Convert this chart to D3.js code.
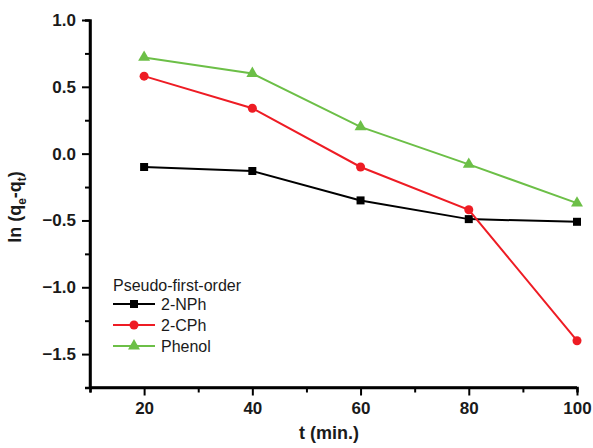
<!DOCTYPE html>
<html>
<head>
<meta charset="utf-8">
<script src="https://cdn.jsdelivr.net/npm/d3@7"></script>
<style>
  html, body { margin: 0; padding: 0; background: #fff; }
  svg { display: block; font-family: Arial, "Liberation Sans", sans-serif; }
</style>
</head>
<body>
<svg id="chart" width="593" height="448"></svg>
<script>
// Contact time (min) and ln(qe - qt) for each adsorbate
const times = [20, 40, 60, 80, 100];
const nph = [-0.10, -0.13, -0.35, -0.49, -0.51];
const cph = [0.58, 0.34, -0.10, -0.42, -1.40];
const phenol = [0.72, 0.60, 0.20, -0.08, -0.37];

const seriesNames = ["2-NPh", "2-CPh", "Phenol"];
const seriesColors = ["#000000", "#ee1c24", "#6cbf47"];
const seriesShapes = ["square", "circle", "triangle"];
const legendTitle = "Pseudo-first-order";

const xMajorTicks = [20, 40, 60, 80, 100];
const xMinorTicks = [10, 30, 50, 70, 90];
const yMajorTicks = [1.0, 0.5, 0.0, -0.5, -1.0, -1.5];
const yMinorTicks = [0.75, 0.25, -0.25, -0.75, -1.25, -1.75];

const svg = d3.select("#chart");
const x = d3.scaleLinear().domain([10, 100]).range([90, 577]);
const y = d3.scaleLinear().domain([-1.75, 1.0]).range([387.5, 20]);

const seriesData = [nph, cph, phenol];

// Axes
const xAxis = svg.append("g").attr("transform", `translate(0,${y(-1.75)})`);
xAxis.call(d3.axisBottom(x).tickValues(xMajorTicks).tickSize(8).tickPadding(6).tickFormat(d3.format("d")));
xAxis.append("g").call(d3.axisBottom(x).tickValues(xMinorTicks).tickSize(5).tickFormat(""));

const yAxis = svg.append("g").attr("transform", `translate(${x(10)},0)`);
yAxis.call(d3.axisLeft(y).tickValues(yMajorTicks).tickSize(8).tickPadding(6).tickFormat(d3.format(".1f")));
yAxis.append("g").call(d3.axisLeft(y).tickValues(yMinorTicks).tickSize(5).tickFormat(""));

svg.selectAll(".domain").attr("stroke", "#000").attr("stroke-width", 2.5);
svg.selectAll(".tick line").attr("stroke", "#000").attr("stroke-width", 2);
svg.selectAll(".tick text")
  .attr("fill", "#1a1a1a")
  .style("font-size", "17px")
  .style("font-weight", "bold");
// Domain paths without end caps so the two axes meet cleanly
xAxis.select(".domain").attr("d", `M${x(10)},0H${x(100)}`);
yAxis.select(".domain").attr("d", `M0,${y(-1.75)}V${y(1.0)}`);

// Axis titles
svg.append("text")
  .attr("x", 329).attr("y", 439)
  .attr("text-anchor", "middle")
  .style("font-size", "18px").style("font-weight", "bold").attr("fill", "#1a1a1a")
  .text("t (min.)");

const yl = svg.append("text")
  .attr("transform", "translate(21,207) rotate(-90)")
  .attr("text-anchor", "middle")
  .style("font-size", "18px").style("font-weight", "bold").attr("fill", "#1a1a1a");
yl.append("tspan").text("ln (q");
yl.append("tspan").attr("dy", 5).style("font-size", "12px").text("e");
yl.append("tspan").attr("dy", -5).text("-q");
yl.append("tspan").attr("dy", 5).style("font-size", "12px").text("t");
yl.append("tspan").attr("dy", -5).text(")");

// Marker drawing
function marker(g, shape, cx, cy, color) {
  if (shape === "square") {
    const s = 8;
    g.append("rect").attr("x", cx - s / 2).attr("y", cy - s / 2).attr("width", s).attr("height", s).attr("fill", color);
  } else if (shape === "circle") {
    g.append("circle").attr("cx", cx).attr("cy", cy).attr("r", 4.5).attr("fill", color);
  } else {
    const sym = d3.symbol().type(d3.symbolTriangle).size(62);
    g.append("path").attr("d", sym()).attr("transform", `translate(${cx},${cy})`).attr("fill", color);
  }
}

const line = d3.line().x((d, i) => x(times[i])).y(d => y(d));

seriesData.forEach((vals, k) => {
  const g = svg.append("g");
  g.append("path").datum(vals).attr("d", line)
    .attr("fill", "none").attr("stroke", seriesColors[k]).attr("stroke-width", 2);
  vals.forEach((v, i) => marker(g, seriesShapes[k], x(times[i]), y(v), seriesColors[k]));
});

// Legend
const lg = svg.append("g");
lg.append("text").attr("x", 113).attr("y", 291)
  .style("font-size", "16px").attr("fill", "#1a1a1a").text(legendTitle);
seriesNames.forEach((name, k) => {
  const ly = 304 + k * 21;
  lg.append("line").attr("x1", 113).attr("x2", 155).attr("y1", ly).attr("y2", ly)
    .attr("stroke", seriesColors[k]).attr("stroke-width", 2);
  marker(lg, seriesShapes[k], 134, ly, seriesColors[k]);
  lg.append("text").attr("x", 161).attr("y", ly + 6)
    .style("font-size", "16px").attr("fill", "#1a1a1a").text(name);
});
</script>
</body>
</html>
